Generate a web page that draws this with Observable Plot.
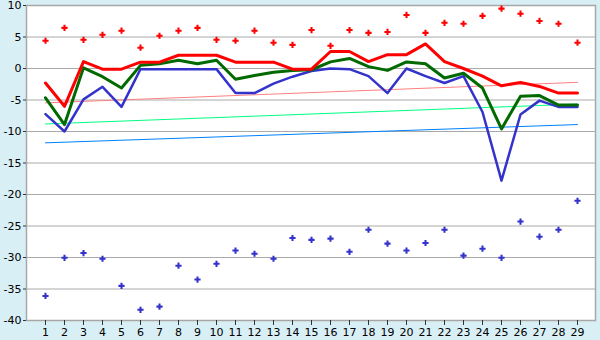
<!DOCTYPE html>
<html>
<head>
<meta charset="utf-8">
<script src="https://cdn.jsdelivr.net/npm/d3@7"></script>
<script src="https://cdn.jsdelivr.net/npm/@observablehq/plot@0.6"></script>
<style>
  html, body { margin: 0; padding: 0; background: #d9eff6; }
  #chart svg { display: block; }
</style>
</head>
<body>
<div id="chart"></div>
<script>
const days = d3.range(1, 30);
const redLine = [-2.3, -6.0, 1.1, -0.1, -0.1, 1.0, 1.0, 2.1, 2.1, 2.1, 1.0, 1.0, 1.0, -0.1, -0.1, 2.7, 2.7, 1.1, 2.2, 2.2, 3.9, 1.1, 0.0, -1.2, -2.75, -2.2, -2.85, -3.9, -3.9];
const greenLine = [-4.65, -8.9, 0.1, -1.3, -3.1, 0.5, 0.75, 1.3, 0.75, 1.3, -1.7, -1.1, -0.6, -0.3, -0.2, 1.05, 1.6, 0.3, -0.3, 1.05, 0.75, -1.5, -0.75, -3.1, -9.6, -4.4, -4.3, -5.8, -5.8];
const blueLine = [-7.25, -10.0, -4.9, -2.9, -6.1, -0.1, -0.1, -0.1, -0.1, -0.1, -3.9, -3.9, -2.4, -1.3, -0.4, 0.0, -0.1, -1.2, -3.9, 0.0, -1.2, -2.3, -1.2, -6.9, -17.8, -7.3, -5.1, -6.1, -6.1];
const redPoints = [4.4, 6.45, 4.55, 5.35, 6.0, 3.3, 5.2, 6.0, 6.45, 4.55, 4.4, 6.0, 4.1, 3.75, 6.1, 3.6, 6.1, 5.65, 5.8, 8.5, 5.65, 7.25, 7.1, 8.35, 9.5, 8.7, 7.55, 7.1, 4.1];
const bluePoints = [-36.1, -30.05, -29.3, -30.2, -34.5, -38.3, -37.8, -31.3, -33.5, -31.0, -28.9, -29.4, -30.2, -26.9, -27.2, -27.0, -29.1, -25.6, -27.8, -28.9, -27.7, -25.6, -29.7, -28.6, -30.05, -24.3, -26.7, -25.6, -21.0];
const trendDays = [1, 29];
const redTrend = [-5.45, -2.2];
const greenTrend = [-8.8, -5.65];
const blueTrend = [-11.8, -8.9];
const yTicks = [10, 5, 0, -5, -10, -15, -20, -25, -30, -35, -40];

const series = (ys, xs = days) => ys.map((v, i) => ({x: xs[i], y: v}));

const chart = Plot.plot({
  width: 600,
  height: 340,
  marginLeft: 26,
  marginRight: 5,
  marginTop: 5,
  marginBottom: 20,
  style: {background: "#d9eff6", fontFamily: "DejaVu Sans, Verdana, sans-serif", fontSize: "11px", color: "#000"},
  x: {type: "point", domain: days, padding: 0.5},
  y: {domain: [-40, 10]},
  marks: [
    Plot.frame({fill: "white", stroke: "none"}),
    Plot.ruleY(yTicks, {stroke: "#aaaaaa", strokeWidth: 1}),
    Plot.frame({stroke: "#a8a8a8", fill: "none", strokeWidth: 1.5}),
    Plot.ruleX([1], {x: () => null, stroke: "#888", strokeWidth: 1}),
    Plot.axisY({ticks: yTicks, tickSize: 3, tickPadding: 2, stroke: "#333", tickFormat: d => String(d), label: null, fontSize: 11}),
    Plot.axisX({tickSize: 5, tickPadding: 3, stroke: "#333", label: null, fontSize: 11}),
    Plot.line(series(redTrend, trendDays), {x: "x", y: "y", stroke: "#ff8080", strokeWidth: 1}),
    Plot.line(series(greenTrend, trendDays), {x: "x", y: "y", stroke: "#00ff80", strokeWidth: 1}),
    Plot.line(series(blueTrend, trendDays), {x: "x", y: "y", stroke: "#0080ff", strokeWidth: 1}),
    Plot.line(series(blueLine), {x: "x", y: "y", stroke: "#3333cc", strokeWidth: 2.5, curve: "linear"}),
    Plot.line(series(greenLine), {x: "x", y: "y", stroke: "#006a00", strokeWidth: 3, curve: "linear"}),
    Plot.line(series(redLine), {x: "x", y: "y", stroke: "#ff0000", strokeWidth: 3, curve: "linear"}),
    Plot.dot(series(redPoints), {x: "x", y: "y", symbol: "cross", r: 2.6, fill: "#ff0000", stroke: "none"}),
    Plot.dot(series(bluePoints), {x: "x", y: "y", symbol: "cross", r: 2.6, fill: "#3333cc", stroke: "none"})
  ]
});
document.getElementById("chart").append(chart);
</script>
</body>
</html>
